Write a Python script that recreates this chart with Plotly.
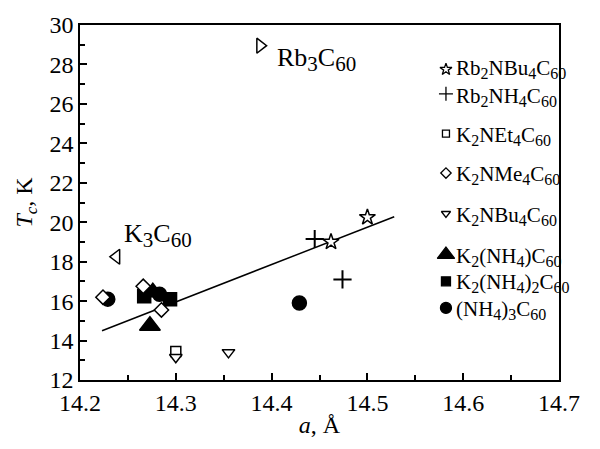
import plotly.graph_objects as go

FONT = "Liberation Serif, Times New Roman, Times, serif"

# ---- data ----
star_x = [14.462, 14.500]
star_y = [19.0, 20.25]
plus_x = [14.445, 14.474]
plus_y = [19.15, 17.1]
sqo_x = [14.300]
sqo_y = [13.45]
dia_x = [14.224, 14.266, 14.285]
dia_y = [16.2, 16.75, 15.55]
tdn_x = [14.300, 14.355]
tdn_y = [13.15, 13.4]
tri_x = [14.276, 14.273]
tri_y = [16.45, 14.75]
sq_x = [14.267, 14.294]
sq_y = [16.25, 16.1]
circ_x = [14.229, 14.283, 14.429]
circ_y = [16.1, 16.35, 15.9]
k3_x = [14.238]
k3_y = [18.25]
rb3_x = [14.388]
rb3_y = [28.95]
fit_x = [14.223, 14.528]
fit_y = [14.5, 20.28]

x_ticks = [14.2, 14.3, 14.4, 14.5, 14.6, 14.7]
y_ticks = [12, 14, 16, 18, 20, 22, 24, 26, 28, 30]


def s(t, px=16):
    return f'<sub><span style="font-size:{px}px">{t}</span></sub>'


legend_labels = [
    "Rb" + s(2) + "NBu" + s(4) + "C" + s(60),
    "Rb" + s(2) + "NH" + s(4) + "C" + s(60),
    "K" + s(2) + "NEt" + s(4) + "C" + s(60),
    "K" + s(2) + "NMe" + s(4) + "C" + s(60),
    "K" + s(2) + "NBu" + s(4) + "C" + s(60),
    "K" + s(2) + "(NH" + s(4) + ")C" + s(60),
    "K" + s(2) + "(NH" + s(4) + ")" + s(2) + "C" + s(60),
    "(NH" + s(4) + ")" + s(3) + "C" + s(60),
]
legend_rows = [0.875, 0.806, 0.694, 0.583, 0.469, 0.353, 0.278, 0.203]
legend_shift = [0, -3, -2, -2, -2, -2, -2, -2]
legend_symbols = ["star-open", "cross-thin-open", "square-open", "diamond-open",
                  "triangle-down-open", "triangle-up", "square", "circle"]
legend_sizes = [9, 10, 7, 8, 8, 15, 9, 11]

fig = go.Figure()

fig.add_trace(go.Scatter(x=fit_x, y=fit_y, mode="lines",
                         line=dict(color="black", width=1.5), showlegend=False))


def add(x, y, sym, size, fill="black", lw=1.5):
    fig.add_trace(go.Scatter(x=x, y=y, mode="markers", showlegend=False,
                             marker=dict(symbol=sym, size=size, color=fill,
                                         line=dict(color="black", width=lw))))


add(circ_x, circ_y, "circle", 14)
add(sq_x, sq_y, "square", 13)
add(tri_x, tri_y, "triangle-up", 18)
add(star_x, star_y, "star", 12, fill="white")
add(plus_x, plus_y, "cross-thin-open", 13, lw=2)
add(sqo_x, sqo_y, "square", 10, fill="white")
add(tdn_x, tdn_y, "triangle-down", 11, fill="white")
add(dia_x, dia_y, "diamond", 11, fill="white")
add(k3_x, k3_y, "triangle-left", 13, fill="white")
add(rb3_x, rb3_y, "triangle-right", 13, fill="white")

# legend markers on an overlay axis spanning the plot area (0..1)
for i, (sym, sz) in enumerate(zip(legend_symbols, legend_sizes)):
    fig.add_trace(go.Scatter(x=[0.764], y=[legend_rows[i]], mode="markers",
                             xaxis="x2", yaxis="y2", showlegend=False,
                             marker=dict(symbol=sym, size=sz, color="black",
                                         line=dict(color="black", width=1.3))))

for lab, yy, sh in zip(legend_labels, legend_rows, legend_shift):
    fig.add_annotation(x=0.78, y=yy, xref="paper", yref="paper", text=lab,
                       showarrow=False, xanchor="left", yanchor="middle",
                       yshift=sh, font=dict(family=FONT, size=21, color="black"))

fig.add_annotation(x=14.4035, y=28.25, text="Rb" + s(3, 21) + "C" + s(60, 21),
                   showarrow=False, xanchor="left", yanchor="middle",
                   font=dict(family=FONT, size=26, color="black"))
fig.add_annotation(x=14.244, y=19.35, text="K" + s(3, 21) + "C" + s(60, 21),
                   showarrow=False, xanchor="left", yanchor="middle",
                   font=dict(family=FONT, size=26, color="black"))

axis_common = dict(showline=True, linecolor="black", linewidth=1.5, mirror=True,
                   ticks="inside", tickcolor="black", tickwidth=1.5, ticklen=7,
                   showgrid=False, zeroline=False,
                   tickfont=dict(family=FONT, size=24, color="black"))

fig.update_layout(
    width=600, height=449,
    margin=dict(l=80, r=41, t=20, b=69),
    paper_bgcolor="white", plot_bgcolor="white",
    font=dict(family=FONT, color="black"),
    xaxis=dict(range=[14.2, 14.7], tickvals=x_ticks,
               ticktext=[f"{v:.1f}" for v in x_ticks],
               minor=dict(dtick=0.05, ticks="inside", ticklen=5,
                          tickcolor="black", tickwidth=1.5),
               title=dict(text="<i>a</i>, Å", standoff=2,
                          font=dict(family=FONT, size=24, color="black")),
               **axis_common),
    yaxis=dict(range=[12, 30], tickvals=y_ticks,
               ticktext=[str(v) for v in y_ticks],
               minor=dict(dtick=1, ticks="inside", ticklen=5,
                          tickcolor="black", tickwidth=1.5),
               title=dict(text="<i>T<sub>c</sub></i>, K", standoff=10,
                          font=dict(family=FONT, size=24, color="black")),
               **axis_common),
    xaxis2=dict(overlaying="x", range=[0, 1], visible=False),
    yaxis2=dict(overlaying="y", range=[0, 1], visible=False),
)

fig.write_html("out.html")
